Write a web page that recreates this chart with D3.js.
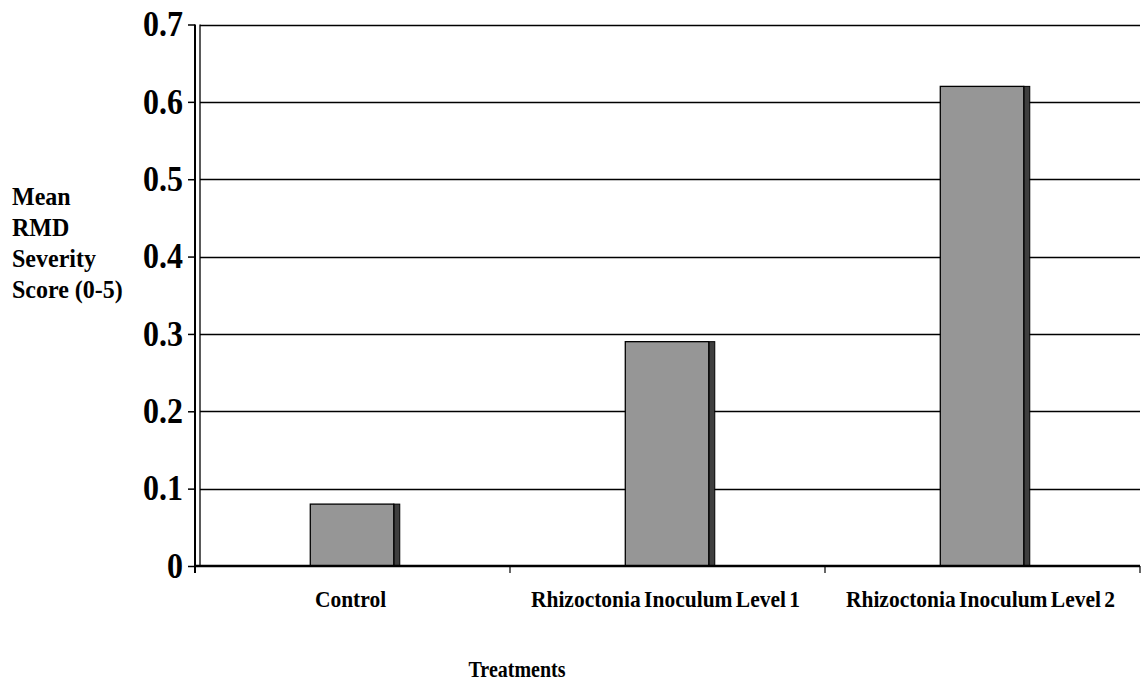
<!DOCTYPE html>
<html>
<head>
<meta charset="utf-8">
<script src="https://cdn.jsdelivr.net/npm/d3@7"></script>
<style>
  html, body { margin: 0; padding: 0; background: #fff; }
  svg { display: block; }
  text { font-family: "Liberation Serif", "Times New Roman", serif; font-weight: bold; fill: #000; }
</style>
</head>
<body>
<svg id="chart" width="1142" height="682"></svg>
<script>
// Treatment groups and their mean root-disease severity scores
const categories = ["Control", "Rhizoctonia Inoculum Level 1", "Rhizoctonia Inoculum Level 2"];
const meanScores = [0.08, 0.29, 0.62];
const yTicks = [0, 0.1, 0.2, 0.3, 0.4, 0.5, 0.6, 0.7];
const yTitleLines = ["Mean", "RMD", "Severity", "Score (0-5)"];
const xTitle = "Treatments";

const svg = d3.select("#chart");

const plot = { left: 195, right: 1140, top: 24.5, bottom: 566 };

const x = d3.scaleBand()
  .domain(categories)
  .range([plot.left, plot.right])
  .paddingInner(0)
  .paddingOuter(0);

const y = d3.scaleLinear()
  .domain([0, 0.7])
  .range([plot.bottom, plot.top]);

// Horizontal gridlines
svg.append("g")
  .selectAll("line")
  .data(yTicks.filter(d => d > 0))
  .join("line")
  .attr("x1", plot.left + 5)
  .attr("x2", plot.right)
  .attr("y1", d => Math.round(y(d)) + 0.5)
  .attr("y2", d => Math.round(y(d)) + 0.5)
  .attr("stroke", "#000")
  .attr("stroke-width", 1.3);

// Bars with a darker side face
const bw = x.bandwidth();
const barW = bw * 0.265;
const sideW = 6;
const bars = svg.append("g")
  .selectAll("g")
  .data(categories.map((c, i) => ({ c, v: meanScores[i] })))
  .join("g");

bars.append("rect")
  .attr("x", d => x(d.c) + bw * 0.366 + barW)
  .attr("y", d => y(d.v))
  .attr("width", sideW)
  .attr("height", d => plot.bottom - y(d.v))
  .attr("fill", "#3f3f3f")
  .attr("stroke", "#000")
  .attr("stroke-width", 1);

bars.append("rect")
  .attr("x", d => x(d.c) + bw * 0.366)
  .attr("y", d => y(d.v))
  .attr("width", barW)
  .attr("height", d => plot.bottom - y(d.v))
  .attr("fill", "#969696")
  .attr("stroke", "#000")
  .attr("stroke-width", 1.3);

// Y axis (double line) with ticks and labels
const yAxis = svg.append("g")
  .attr("transform", `translate(${plot.left},0)`)
  .call(d3.axisLeft(y).tickValues(yTicks).tickSize(7).tickPadding(5)
    .tickFormat(d => d === 0 ? "0" : d3.format(".1f")(d)));
yAxis.select(".domain").remove();
yAxis.selectAll(".tick line").attr("stroke", "#000").attr("stroke-width", 1.5);
yAxis.selectAll(".tick text")
  .attr("x", null)
  .attr("dy", null)
  .attr("font-size", 32)
  .attr("font-family", "Liberation Serif, serif")
  .attr("font-weight", "bold")
  .attr("fill", "#000")
  .attr("transform", "translate(-12,0) scale(1,1.12) translate(0,10)");

svg.append("line")
  .attr("x1", plot.left).attr("x2", plot.left)
  .attr("y1", plot.top).attr("y2", plot.bottom + 7)
  .attr("stroke", "#000").attr("stroke-width", 2);
svg.append("line")
  .attr("x1", plot.left + 5).attr("x2", plot.left + 5)
  .attr("y1", plot.top).attr("y2", plot.bottom)
  .attr("stroke", "#000").attr("stroke-width", 1.3);

// X axis baseline and category separators
svg.append("line")
  .attr("x1", plot.left).attr("x2", plot.right)
  .attr("y1", plot.bottom).attr("y2", plot.bottom)
  .attr("stroke", "#000").attr("stroke-width", 2.5);
svg.append("g")
  .selectAll("line")
  .data(categories.slice(1).map(c => x(c)).concat([plot.right]))
  .join("line")
  .attr("x1", d => d).attr("x2", d => d)
  .attr("y1", plot.bottom).attr("y2", plot.bottom + 7)
  .attr("stroke", "#000").attr("stroke-width", 1.2);

svg.append("g")
  .selectAll("text")
  .data(categories)
  .join("text")
  .attr("transform", d => `translate(${x(d) + bw / 2 - 2},607) scale(1,1.12)`)
  .attr("text-anchor", "middle")
  .attr("font-size", 21.5)
  .attr("word-spacing", "-2px")
  .text(d => d);

// Axis titles
svg.append("text")
  .attr("transform", "translate(517,677) scale(1,1.12)")
  .attr("text-anchor", "middle")
  .attr("font-size", 20)
  .text(xTitle);

svg.append("g")
  .selectAll("text")
  .data(yTitleLines)
  .join("text")
  .attr("transform", (d, i) => `translate(12,${205 + i * 31}) scale(1,1.05)`)
  .attr("font-size", 24)
  .text(d => d);
</script>
</body>
</html>
